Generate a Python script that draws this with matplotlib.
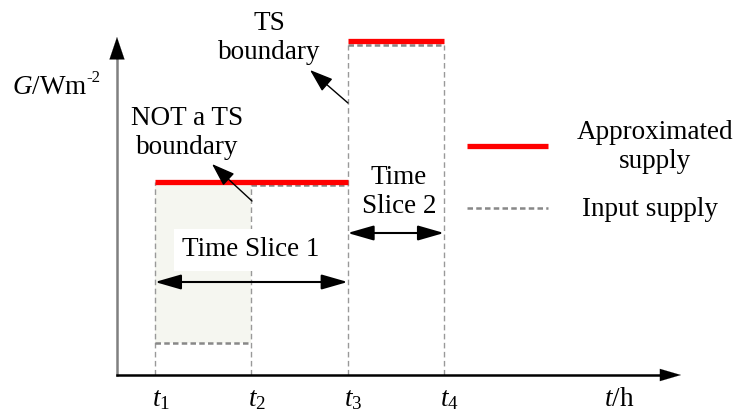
import matplotlib
matplotlib.use("Agg")
import matplotlib.pyplot as plt
import numpy as np

plt.rcParams['font.family'] = ['Liberation Serif', 'DejaVu Serif']
plt.rcParams['mathtext.fontset'] = 'custom'
plt.rcParams['mathtext.rm'] = 'Liberation Serif'
plt.rcParams['mathtext.it'] = 'Liberation Serif:italic'

# time-slice edges and supply levels (arbitrary units)
t_edges = [1, 2, 3, 4]
t_labels = ['$t_1$', '$t_2$', '$t_3$', '$t_4$']
input_supply = [0.32, 1.90, 3.30]          # one level per interval t_i..t_i+1
approx_supply = [1.93, 1.93, 3.34]         # approximated level per interval
slice_names = ['Time Slice 1', 'Time\nSlice 2']
slice_bounds = [(1, 3), (3, 4)]

FS = 19.5
fig = plt.figure(figsize=(7.37, 4.12), dpi=100)
ax = fig.add_axes([0, 0, 1, 1])
ax.set_xlim(-0.609, 7.042)
ax.set_ylim(-0.37, 3.75)
ax.axis('off')


def at(px, py):
    # place layout items by figure pixel
    return 1 + (px - 155) / 96.33, (375 - py) / 100


def arrow(xy, xytext, style, color='black', lw=1.0):
    ax.annotate('', xy=xy, xytext=xytext,
                arrowprops=dict(arrowstyle=style, color=color, lw=lw,
                                mutation_scale=20, shrinkA=0, shrinkB=0), zorder=6)


ox, oy = at(117, 375)

# shaded region under the first (non-boundary) step
ax.fill_between([t_edges[0], t_edges[1]], input_supply[0], approx_supply[0] - 0.02,
                color='#f5f6f0', lw=0, zorder=0)

# vertical dashed guides at each t
guide_tops = [approx_supply[0], input_supply[1], input_supply[2], input_supply[2]]
for t, top in zip(t_edges, guide_tops):
    ax.plot([t, t], [0, top], color='#999999', lw=1, ls=(0, (4, 2.5)), zorder=1)

# input supply and approximated supply
for i in range(3):
    ax.plot([t_edges[i], t_edges[i + 1]], [input_supply[i]] * 2,
            color='#888888', lw=1.8, ls=(0, (2.2, 1.3)), zorder=2)
ax.plot([t_edges[0], t_edges[2]], [approx_supply[0]] * 2, color='#ff0000', lw=3.8,
        solid_capstyle='butt', zorder=3)
ax.plot([t_edges[2], t_edges[3]], [approx_supply[2]] * 2, color='#ff0000', lw=3.8,
        solid_capstyle='butt', zorder=3)

# axes with arrowheads
ax.plot([ox, ox], [oy, at(0, 55)[1]], color='#808080', lw=1.8, zorder=4)
arrow(at(117, 37), at(117, 60), '-|>,head_length=0.8,head_width=0.27', lw=0.1)
ax.plot([ox, at(665, 0)[0]], [oy, oy], color='black', lw=1.8, zorder=4)
arrow(at(681, 375), at(659, 375), '-|>,head_length=0.75,head_width=0.22', lw=0.1)

# tick labels and axis labels
for t, lab in zip(t_edges, t_labels):
    ax.text(t + 0.06, at(0, 400)[1], lab, fontsize=FS, ha='center', va='center')
ax.text(*at(619, 400), '$t$/h', fontsize=FS, ha='center', va='center')
ax.text(*at(12, 88), '$G$/Wm', fontsize=FS, ha='left', va='center')
ax.text(*at(86, 78), '-2', fontsize=FS * 0.62, ha='left', va='center')

# time slice spans
ax.text(*at(251, 250), slice_names[0], fontsize=FS, ha='center', va='center',
        bbox=dict(facecolor='white', edgecolor='none', pad=6), zorder=6)
ax.text(*at(399, 192), slice_names[1], fontsize=FS, ha='center', va='center',
        linespacing=1.2, zorder=6)
for (a, b), py in zip(slice_bounds, [282, 233]):
    y = at(0, py)[1]
    arrow((a, y), (b, y), '<|-|>,head_length=0.8,head_width=0.23', lw=1.5)

# boundary callouts
ax.text(*at(187, 133), 'NOT a TS\nboundary', fontsize=FS, ha='center', va='center',
        linespacing=1.2)
arrow(at(212, 164), at(252, 201), '-|>,head_length=0.72,head_width=0.25')
ax.text(*at(269, 38), 'TS\nboundary', fontsize=FS, ha='center', va='center',
        linespacing=1.2)
arrow(at(310, 70), at(348, 103), '-|>,head_length=0.72,head_width=0.25')

# legend drawn by hand
lx0, ly = at(467, 146)
lx1, _ = at(548, 146)
ax.plot([lx0, lx1], [ly, ly], color='#ff0000', lw=3.8, solid_capstyle='butt')
ax.text(*at(655, 147), 'Approximated\nsupply', fontsize=FS, ha='center', va='center',
        linespacing=1.2)
_, ly2 = at(0, 208)
ax.plot([lx0, lx1], [ly2, ly2], color='#888888', lw=1.8, ls=(0, (2.2, 1.3)))
ax.text(*at(650, 209), 'Input supply', fontsize=FS, ha='center', va='center')

fig.savefig('out.png', dpi=100)
